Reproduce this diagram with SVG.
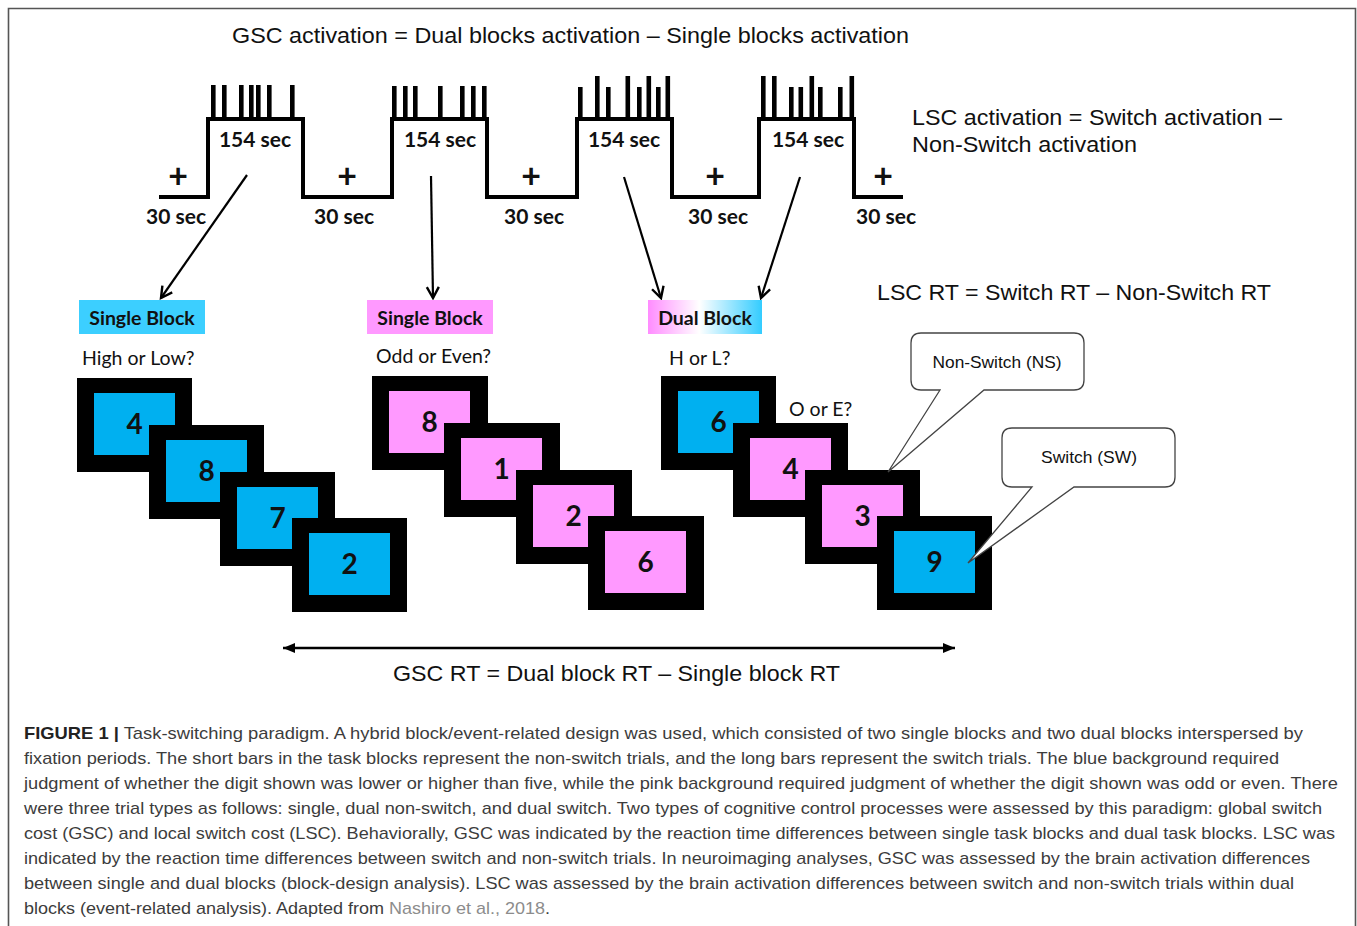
<svg xmlns="http://www.w3.org/2000/svg" width="1357" height="926" viewBox="0 0 1357 926">
<defs>
<style>
.sans{font-family:"Liberation Sans",Arial,sans-serif;fill:#111}
.cal{font-family:Lato,"Open Sans",sans-serif;fill:#111}
.b{font-weight:bold}
.tl{fill:none;stroke:#000;stroke-width:4;stroke-linejoin:miter}
.bar{fill:#000}
.conn{fill:none;stroke:#000;stroke-width:2.2}
.outer{fill:#000}
.blue{fill:#00B0F0}
.pink{fill:#FF99FF}
.dig{font-family:Lato,"Open Sans",sans-serif;font-weight:bold;font-size:28px;fill:#111;text-anchor:middle}
.callout{fill:#fff;stroke:#444;stroke-width:1.3}
.cap{font-family:"Liberation Sans",Arial,sans-serif;font-size:17px;fill:#3c3c3c}
</style>
<marker id="open" markerWidth="16" markerHeight="16" refX="13" refY="8" orient="auto" markerUnits="userSpaceOnUse">
<path d="M2,2 L13,8 L2,14" fill="none" stroke="#000" stroke-width="2.4"/>
</marker>
<marker id="tri" markerWidth="14" markerHeight="12" refX="12" refY="6" orient="auto-start-reverse" markerUnits="userSpaceOnUse">
<path d="M0,1 L12,6 L0,11 Z" fill="#000"/>
</marker>
<linearGradient id="dualg" x1="0" y1="0" x2="1" y2="0">
<stop offset="0" stop-color="#FF8CFF"/>
<stop offset="0.45" stop-color="#FFFFFF"/>
<stop offset="1" stop-color="#33CCFF"/>
</linearGradient>
</defs>
<rect width="1357" height="926" fill="#fff"/>
<path d="M8.5,926 V8.5 H1355.5 V926" fill="none" stroke="#555" stroke-width="1.6"/>

<g id="title">
<text class="sans" x="232" y="43" font-size="22" textLength="677" lengthAdjust="spacingAndGlyphs">GSC activation = Dual blocks activation – Single blocks activation</text>
</g>

<g id="timeline">
<polyline class="tl" points="159,197 208,197 208,119 303,119 303,197 392,197 392,119 487,119 487,197 577,197 577,119 672,119 672,197 759,197 759,119 854,119 854,197 903,197"/>
<g id="bars1">
<rect class="bar" x="211" y="85" width="4.6" height="34"/>
<rect class="bar" x="222" y="85" width="4.6" height="34"/>
<rect class="bar" x="239" y="85" width="4.6" height="34"/>
<rect class="bar" x="249" y="85" width="4.6" height="34"/>
<rect class="bar" x="256" y="85" width="4.6" height="34"/>
<rect class="bar" x="267" y="85" width="4.6" height="34"/>
<rect class="bar" x="290" y="85" width="4.6" height="34"/>
</g>
<g id="bars2">
<rect class="bar" x="392" y="86" width="4.6" height="33"/>
<rect class="bar" x="403" y="86" width="4.6" height="33"/>
<rect class="bar" x="413" y="86" width="4.6" height="33"/>
<rect class="bar" x="438" y="86" width="4.6" height="33"/>
<rect class="bar" x="460" y="86" width="4.6" height="33"/>
<rect class="bar" x="471" y="86" width="4.6" height="33"/>
<rect class="bar" x="482" y="86" width="4.6" height="33"/>
</g>
<g id="bars3">
<rect class="bar" x="578" y="87" width="4.6" height="32"/>
<rect class="bar" x="595" y="76" width="4.6" height="43"/>
<rect class="bar" x="606" y="87" width="4.6" height="32"/>
<rect class="bar" x="625.5" y="76" width="4.6" height="43"/>
<rect class="bar" x="637" y="87" width="4.6" height="32"/>
<rect class="bar" x="646.5" y="76" width="4.6" height="43"/>
<rect class="bar" x="656" y="87" width="4.6" height="32"/>
<rect class="bar" x="665.5" y="76" width="4.6" height="43"/>
</g>
<g id="bars4">
<rect class="bar" x="761" y="76" width="4.6" height="43"/>
<rect class="bar" x="772" y="76" width="4.6" height="43"/>
<rect class="bar" x="789" y="87" width="4.6" height="32"/>
<rect class="bar" x="798.5" y="87" width="4.6" height="32"/>
<rect class="bar" x="809.5" y="76" width="4.6" height="43"/>
<rect class="bar" x="818" y="87" width="4.6" height="32"/>
<rect class="bar" x="838" y="87" width="4.6" height="32"/>
<rect class="bar" x="849.5" y="76" width="4.6" height="43"/>
</g>
<g id="durations">
<text class="cal b" x="255" y="147" font-size="21" text-anchor="middle">154 sec</text>
<text class="cal b" x="440" y="147" font-size="21" text-anchor="middle">154 sec</text>
<text class="cal b" x="624" y="147" font-size="21" text-anchor="middle">154 sec</text>
<text class="cal b" x="808" y="147" font-size="21" text-anchor="middle">154 sec</text>
<text class="cal b" x="176" y="224" font-size="21" text-anchor="middle">30 sec</text>
<text class="cal b" x="344" y="224" font-size="21" text-anchor="middle">30 sec</text>
<text class="cal b" x="534" y="224" font-size="21" text-anchor="middle">30 sec</text>
<text class="cal b" x="718" y="224" font-size="21" text-anchor="middle">30 sec</text>
<text class="cal b" x="886" y="224" font-size="21" text-anchor="middle">30 sec</text>
</g>
<g id="fixations">
<text class="cal b" x="178" y="188" font-size="34" text-anchor="middle">+</text>
<text class="cal b" x="347" y="188" font-size="34" text-anchor="middle">+</text>
<text class="cal b" x="531" y="188" font-size="34" text-anchor="middle">+</text>
<text class="cal b" x="715" y="188" font-size="34" text-anchor="middle">+</text>
<text class="cal b" x="883" y="188" font-size="34" text-anchor="middle">+</text>
</g>
</g>

<g id="lsc-activation">
<text class="sans" x="912" y="125" font-size="22" textLength="370" lengthAdjust="spacingAndGlyphs">LSC activation = Switch activation –</text>
<text class="sans" x="912" y="152" font-size="22" textLength="225" lengthAdjust="spacingAndGlyphs">Non-Switch  activation</text>
</g>
<g id="lsc-rt">
<text class="sans" x="877" y="300" font-size="22" textLength="394" lengthAdjust="spacingAndGlyphs">LSC RT = Switch RT – Non-Switch  RT</text>
</g>

<g id="connectors">
<line class="conn" x1="247" y1="175" x2="161" y2="298" marker-end="url(#open)"/>
<line class="conn" x1="431" y1="176" x2="433" y2="298" marker-end="url(#open)"/>
<line class="conn" x1="624" y1="177" x2="661" y2="298" marker-end="url(#open)"/>
<line class="conn" x1="800" y1="177" x2="761" y2="298" marker-end="url(#open)"/>
<line x1="283" y1="648" x2="955" y2="648" stroke="#000" stroke-width="2.6" marker-start="url(#tri)" marker-end="url(#tri)"/>
</g>

<g id="label-single-1">
<rect x="79" y="300" width="126" height="34" fill="#3CCFFF"/>
<text class="cal b" x="142" y="325" font-size="19.5" text-anchor="middle">Single Block</text>
</g>
<g id="label-single-2">
<rect x="367" y="300" width="126" height="34" fill="#FF99FF"/>
<text class="cal b" x="430" y="325" font-size="19.5" text-anchor="middle">Single Block</text>
</g>
<g id="label-dual">
<rect x="648" y="300" width="114" height="34" fill="url(#dualg)"/>
<text class="cal b" x="705" y="325" font-size="19.5" text-anchor="middle">Dual Block</text>
</g>

<g id="questions">
<text class="cal" x="82" y="365" font-size="19.5">High or Low?</text>
<text class="cal" x="376" y="363" font-size="19.5">Odd or Even?</text>
<text class="cal" x="669" y="365" font-size="19.5">H or L?</text>
<text class="cal" x="789" y="416" font-size="19.5">O or E?</text>
</g>

<g id="single-blue-trials">
<g id="card-b4"><rect class="outer" x="77" y="378" width="115" height="94"/><rect class="blue" x="94" y="393" width="81" height="62"/><text class="dig" x="134.5" y="434">4</text></g>
<g id="card-b8"><rect class="outer" x="149" y="425" width="115" height="94"/><rect class="blue" x="166" y="440" width="81" height="62"/><text class="dig" x="206.5" y="481">8</text></g>
<g id="card-b7"><rect class="outer" x="220" y="472" width="115" height="94"/><rect class="blue" x="237" y="487" width="81" height="62"/><text class="dig" x="277.5" y="528">7</text></g>
<g id="card-b2"><rect class="outer" x="292" y="518" width="115" height="94"/><rect class="blue" x="309" y="533" width="81" height="62"/><text class="dig" x="349.5" y="574">2</text></g>
</g>

<g id="single-pink-trials">
<g id="card-p8"><rect class="outer" x="372" y="376" width="116" height="94"/><rect class="pink" x="389" y="391" width="81" height="62"/><text class="dig" x="429.5" y="432">8</text></g>
<g id="card-p1"><rect class="outer" x="444" y="423" width="116" height="94"/><rect class="pink" x="461" y="438" width="81" height="62"/><text class="dig" x="501.5" y="479">1</text></g>
<g id="card-p2"><rect class="outer" x="516" y="470" width="116" height="94"/><rect class="pink" x="533" y="485" width="81" height="62"/><text class="dig" x="573.5" y="526">2</text></g>
<g id="card-p6"><rect class="outer" x="588" y="516" width="116" height="94"/><rect class="pink" x="605" y="531" width="81" height="62"/><text class="dig" x="645.5" y="572">6</text></g>
</g>

<g id="dual-trials">
<g id="card-d6"><rect class="outer" x="661" y="376" width="115" height="94"/><rect class="blue" x="678" y="391" width="81" height="62"/><text class="dig" x="718.5" y="432">6</text></g>
<g id="card-d4"><rect class="outer" x="733" y="423" width="115" height="94"/><rect class="pink" x="750" y="438" width="81" height="62"/><text class="dig" x="790.5" y="479">4</text></g>
<g id="card-d3"><rect class="outer" x="805" y="470" width="115" height="94"/><rect class="pink" x="822" y="485" width="81" height="62"/><text class="dig" x="862.5" y="526">3</text></g>
<g id="card-d9"><rect class="outer" x="877" y="516" width="115" height="94"/><rect class="blue" x="894" y="531" width="81" height="62"/><text class="dig" x="934.5" y="572">9</text></g>
</g>

<g id="callout-ns">
<path class="callout" d="M921,333 H1074 Q1084,333 1084,343 V380 Q1084,390 1074,390 H984 L888,472 L940,390 H921 Q911,390 911,380 V343 Q911,333 921,333 Z"/>
<text class="sans" x="997" y="368" font-size="17" text-anchor="middle" textLength="129" lengthAdjust="spacingAndGlyphs">Non-Switch (NS)</text>
</g>
<g id="callout-sw">
<path class="callout" d="M1012,428 H1165 Q1175,428 1175,438 V477 Q1175,487 1165,487 H1074 L968,563 L1032,487 H1012 Q1002,487 1002,477 V438 Q1002,428 1012,428 Z"/>
<text class="sans" x="1089" y="463" font-size="17" text-anchor="middle" textLength="96" lengthAdjust="spacingAndGlyphs">Switch (SW)</text>
</g>

<g id="gsc-rt">
<text class="sans" x="393" y="681" font-size="22" textLength="447" lengthAdjust="spacingAndGlyphs">GSC RT = Dual block RT – Single block RT</text>
</g>

<g id="caption">
<text class="cap" x="24" y="739" textLength="1279" lengthAdjust="spacingAndGlyphs"><tspan font-weight="bold" fill="#222">FIGURE 1 |</tspan> Task-switching paradigm. A hybrid block/event-related design was used, which consisted of two single blocks and two dual blocks interspersed by</text>
<text class="cap" x="24" y="764" textLength="1255" lengthAdjust="spacingAndGlyphs">fixation periods. The short bars in the task blocks represent the non-switch trials, and the long bars represent the switch trials. The blue background required</text>
<text class="cap" x="24" y="789" textLength="1314" lengthAdjust="spacingAndGlyphs">judgment of whether the digit shown was lower or higher than five, while the pink background required judgment of whether the digit shown was odd or even. There</text>
<text class="cap" x="24" y="814" textLength="1298" lengthAdjust="spacingAndGlyphs">were three trial types as follows: single, dual non-switch, and dual switch. Two types of cognitive control processes were assessed by this paradigm: global switch</text>
<text class="cap" x="24" y="839" textLength="1311" lengthAdjust="spacingAndGlyphs">cost (GSC) and local switch cost (LSC). Behaviorally, GSC was indicated by the reaction time differences between single task blocks and dual task blocks. LSC was</text>
<text class="cap" x="24" y="864" textLength="1286" lengthAdjust="spacingAndGlyphs">indicated by the reaction time differences between switch and non-switch trials. In neuroimaging analyses, GSC was assessed by the brain activation differences</text>
<text class="cap" x="24" y="889" textLength="1270" lengthAdjust="spacingAndGlyphs">between single and dual blocks (block-design analysis). LSC was assessed by the brain activation differences between switch and non-switch trials within dual</text>
<text class="cap" x="24" y="914" textLength="526" lengthAdjust="spacingAndGlyphs">blocks (event-related analysis). Adapted from <tspan fill="#8c8c8c">Nashiro et al., 2018</tspan>.</text>
</g>
</svg>
